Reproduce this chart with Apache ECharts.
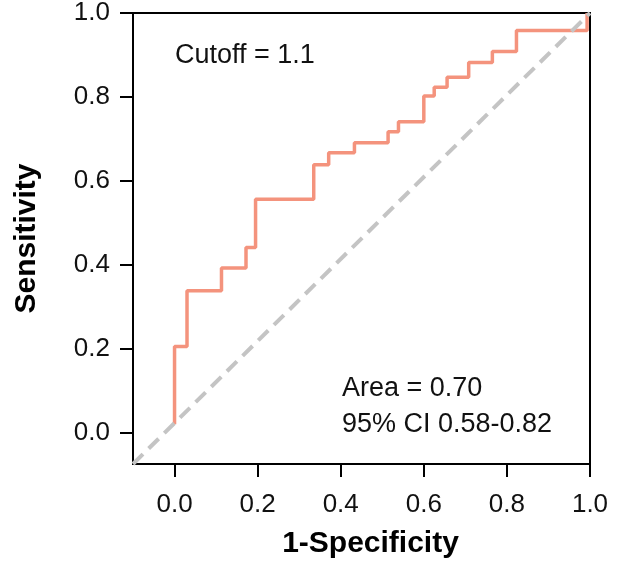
<!DOCTYPE html>
<html>
<head>
<meta charset="utf-8">
<script src="https://cdn.jsdelivr.net/npm/echarts@6/dist/echarts.min.js"></script>
<style>
  html, body { margin: 0; padding: 0; background: #fff; }
  #chart { width: 627px; height: 565px; }
</style>
</head>
<body>
<div id="chart"></div>
<script>
// ROC curve vertices (false positive rate, true positive rate)
var fpr = [0.000, 0.000, 0.030, 0.113, 0.172, 0.195, 0.335, 0.371, 0.433, 0.514,
           0.539, 0.600, 0.625, 0.656, 0.708, 0.765, 0.823, 0.993];
var tpr = [0.020, 0.205, 0.338, 0.392, 0.441, 0.556, 0.638, 0.667, 0.691, 0.717,
           0.741, 0.802, 0.823, 0.847, 0.882, 0.908, 0.958, 1.000];

// Axis ranges and tick values
var xRange = [-0.1, 1.0];
var yRange = [-0.075, 1.0];
var tickValues = [0.0, 0.2, 0.4, 0.6, 0.8, 1.0];

// Reference diagonal across the plot box
var diagX = [xRange[0], xRange[1]];
var diagY = [yRange[0], yRange[1]];

// Annotation texts
var cutoffText = 'Cutoff = 1.1';
var areaText = 'Area = 0.70';
var ciText = '95% CI 0.58-0.82';

var rocData = fpr.map(function (x, i) { return [x, tpr[i]]; });
var diagData = diagX.map(function (x, i) { return [x, diagY[i]]; });

var FONT = '"Liberation Sans", Arial, Helvetica, sans-serif';
var chart = echarts.init(document.getElementById('chart'), null, { renderer: 'canvas' });

var fmt = function (v) { return v.toFixed(1); };

chart.setOption({
  backgroundColor: '#ffffff',
  animation: false,
  grid: {
    left: 133, right: 37, top: 13, bottom: 101,
    show: true, borderColor: '#000', borderWidth: 2
  },
  xAxis: {
    type: 'value',
    min: xRange[0], max: xRange[1],
    name: '1-Specificity',
    nameLocation: 'middle',
    nameGap: 65,
    nameTextStyle: { fontFamily: FONT, fontWeight: 'bold', fontSize: 30, color: '#000', padding: [0, 0, 0, 18] },
    splitLine: { show: false },
    axisLine: { show: true, onZero: false, lineStyle: { color: '#000', width: 2 } },
    axisTick: { show: true, length: 13, customValues: tickValues, lineStyle: { color: '#000', width: 2 } },
    axisLabel: { customValues: tickValues, formatter: fmt, margin: 28, fontFamily: FONT, fontSize: 26, color: '#111' }
  },
  yAxis: {
    type: 'value',
    min: yRange[0], max: yRange[1],
    name: 'Sensitivity',
    nameLocation: 'middle',
    nameGap: 91,
    nameTextStyle: { fontFamily: FONT, fontWeight: 'bold', fontSize: 30, color: '#000' },
    splitLine: { show: false },
    axisLine: { show: true, onZero: false, lineStyle: { color: '#000', width: 2 } },
    axisTick: { show: true, length: 13, customValues: tickValues, lineStyle: { color: '#000', width: 2 } },
    axisLabel: { customValues: tickValues, formatter: fmt, margin: 23, fontFamily: FONT, fontSize: 26, color: '#111' }
  },
  series: [
    {
      name: 'ROC',
      type: 'line',
      step: 'end',
      data: rocData,
      showSymbol: false,
      clip: true,
      z: 2,
      lineStyle: { color: '#F4937D', width: 3.5 }
    },
    {
      name: 'Reference',
      type: 'line',
      data: diagData,
      showSymbol: false,
      clip: true,
      z: 3,
      lineStyle: { color: '#C4C4C4', width: 4, type: [14, 8] }
    }
  ],
  graphic: [
    { type: 'text', left: 175, top: 42, z: 10,
      style: { text: cutoffText, font: '27px ' + FONT, fill: '#111' } },
    { type: 'text', left: 342, top: 375, z: 10,
      style: { text: areaText, font: '27px ' + FONT, fill: '#111' } },
    { type: 'text', left: 342, top: 411, z: 10,
      style: { text: ciText, font: '27px ' + FONT, fill: '#111' } }
  ]
});
</script>
</body>
</html>
